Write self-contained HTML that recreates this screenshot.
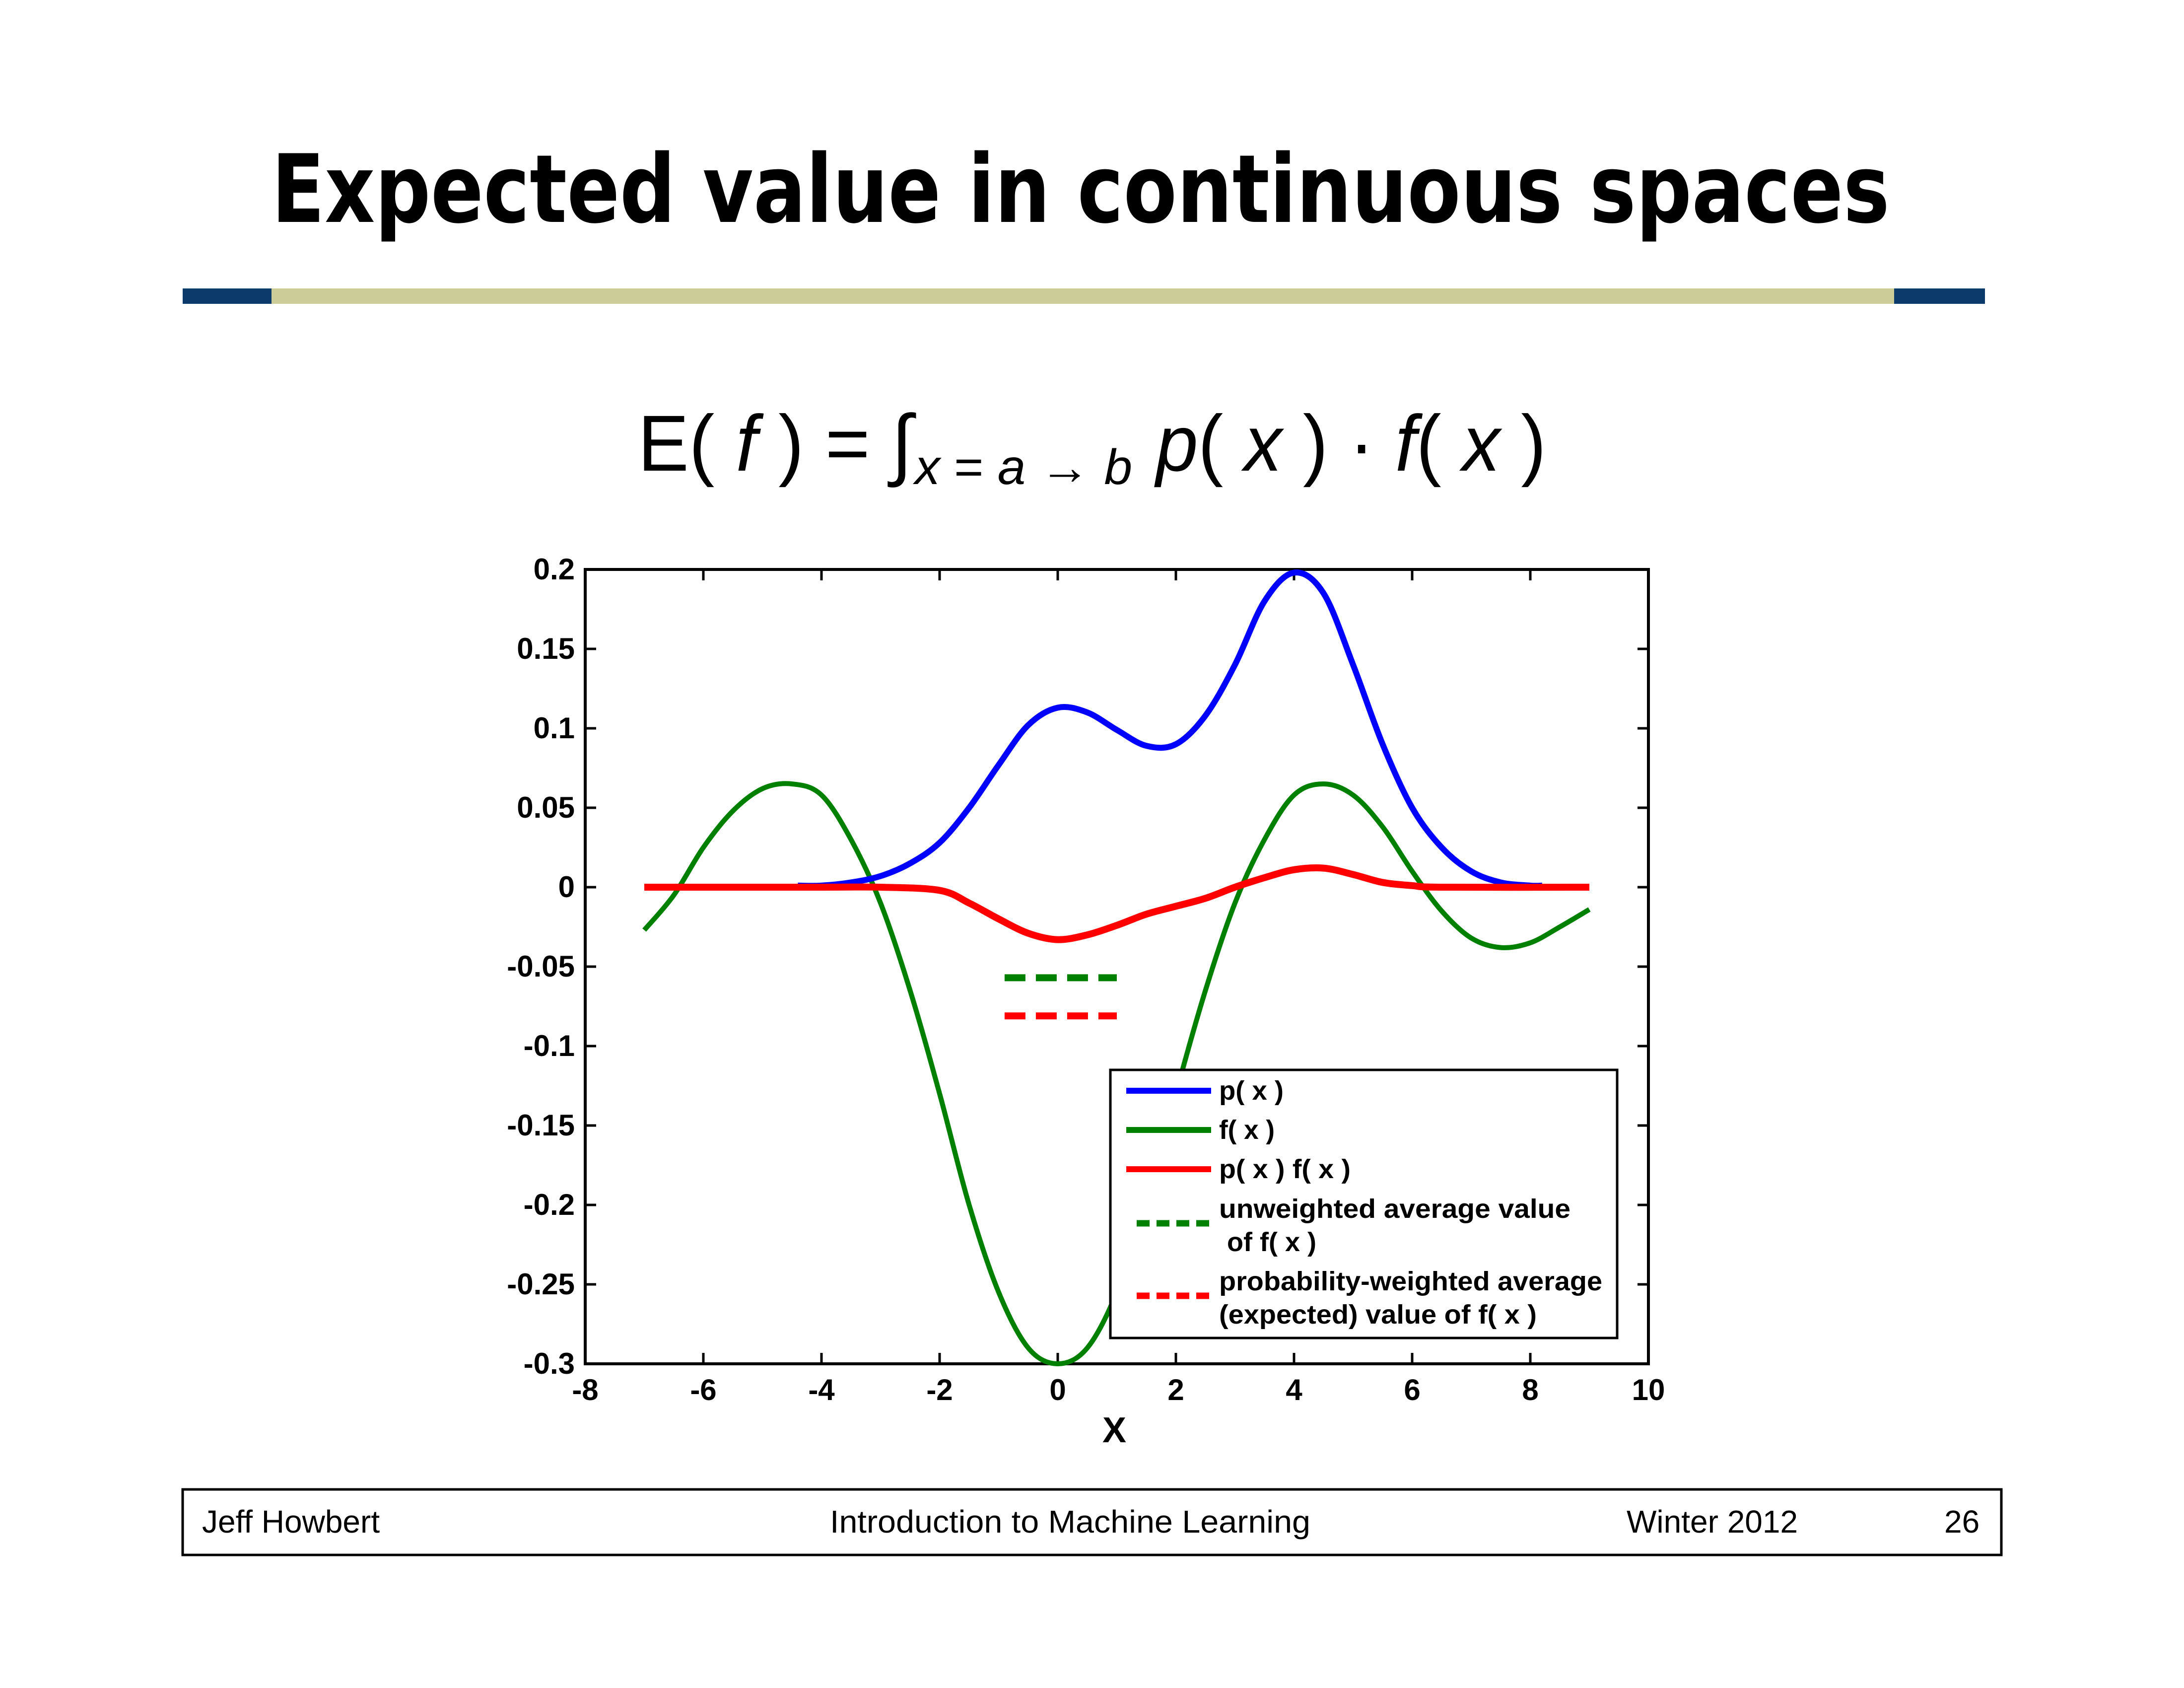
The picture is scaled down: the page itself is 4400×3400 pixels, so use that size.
<!DOCTYPE html>
<html><head><meta charset="utf-8"><style>
html,body{margin:0;padding:0;background:#fff;}
svg{display:block;}
</style></head><body>
<svg width="4400" height="3400" viewBox="0 0 4400 3400" xmlns="http://www.w3.org/2000/svg">
<rect width="4400" height="3400" fill="#fff"/>
<text x="547" y="447" font-family="DejaVu Sans, Liberation Sans, sans-serif" font-weight="bold" font-size="190" textLength="3260" lengthAdjust="spacingAndGlyphs">Expected value in continuous spaces</text>
<g>
<rect x="368" y="581" width="179" height="31" fill="#0b3a6b"/>
<rect x="547" y="581" width="3269" height="31" fill="#cccc99"/>
<rect x="3816" y="581" width="183" height="31" fill="#0b3a6b"/>
</g>
<g font-family="Liberation Sans, sans-serif" fill="#000">
<text x="1285" y="948" font-size="160" textLength="553" lengthAdjust="spacingAndGlyphs">E( <tspan font-style="italic">f</tspan> ) = ∫</text>
<text x="1843" y="975" font-size="100" font-style="italic" textLength="438" lengthAdjust="spacingAndGlyphs">x<tspan font-style="normal"> = </tspan>a<tspan font-style="normal"> → </tspan>b</text>
<text x="2329" y="948" font-size="160" textLength="786" lengthAdjust="spacingAndGlyphs"><tspan font-style="italic">p</tspan>( <tspan font-style="italic">x</tspan> ) · <tspan font-style="italic">f</tspan>( <tspan font-style="italic">x</tspan> )</text>
</g>
<g id="chart"></g>
<g font-family="Liberation Sans, sans-serif" font-size="64">
<rect x="368" y="3000" width="3664" height="132" fill="none" stroke="#000" stroke-width="5"/>
<text x="407" y="3087">Jeff Howbert</text>
<text x="1672" y="3087" textLength="968" lengthAdjust="spacingAndGlyphs">Introduction to Machine Learning</text>
<text x="3277" y="3087">Winter 2012</text>
<text x="3917" y="3087">26</text>
</g>
</svg>
<script>
const xTicks=[-8,-6,-4,-2,0,2,4,6,8,10];
const yTicks=[0.2,0.15,0.1,0.05,0,-0.05,-0.1,-0.15,-0.2,-0.25,-0.3];
const yTickLabels=["0.2","0.15","0.1","0.05","0","-0.05","-0.1","-0.15","-0.2","-0.25","-0.3"];
const pX=[-4.4,-4,-3.5,-3,-2.5,-2,-1.5,-1,-0.5,0,0.5,1,1.5,2,2.5,3,3.5,4,4.5,5,5.5,6,6.5,7,7.5,8,8.2];
const pY=[0.001,0.001,0.003,0.007,0.015,0.028,0.05,0.077,0.102,0.113,0.11,0.099,0.089,0.09,0.108,0.14,0.18,0.198,0.185,0.14,0.09,0.05,0.025,0.01,0.003,0.001,0.001];
const fX=[-7,-6.5,-6,-5.5,-5,-4.5,-4,-3.5,-3,-2.5,-2,-1.5,-1,-0.5,0,0.5,1,1.5,2,2.5,3,3.5,4,4.5,5,5.5,6,6.5,7,7.5,8,8.5,9];
const fY=[-0.027,-0.005,0.025,0.048,0.062,0.065,0.058,0.03,-0.01,-0.065,-0.13,-0.2,-0.255,-0.29,-0.3,-0.29,-0.255,-0.2,-0.13,-0.065,-0.01,0.03,0.058,0.065,0.058,0.038,0.01,-0.015,-0.032,-0.038,-0.035,-0.025,-0.014];
const pfX=[-7,-4,-3,-2,-1.5,-1,-0.5,0,0.5,1,1.5,2,2.5,3,3.5,4,4.5,5,5.5,6,6.5,9];
const pfY=[0,0,0,-0.002,-0.01,-0.02,-0.029,-0.033,-0.03,-0.024,-0.017,-0.012,-0.007,0,0.006,0.011,0.012,0.008,0.003,0.001,0,0];
const unweightedAvg=-0.057;
const weightedAvg=-0.081;
const avgRange=[-0.9,1];

const L=1179,R=3321,T=1147,B=2747;
const sx=v=>L+(v+8)/18*(R-L);
const sy=v=>T+(0.2-v)/0.5*(B-T);
const NS="http://www.w3.org/2000/svg";
const chart=document.getElementById('chart');
function mk(tag,attrs,parent){const e=document.createElementNS(NS,tag);for(const k in attrs)e.setAttribute(k,attrs[k]);(parent||chart).appendChild(e);return e;}
function smooth(xs,ys){
  const P=xs.map((x,i)=>[sx(x),sy(ys[i])]);
  let d='M'+P[0][0]+','+P[0][1];
  for(let i=0;i<P.length-1;i++){
    const p0=P[i-1]||P[i],p1=P[i],p2=P[i+1],p3=P[i+2]||P[i+1];
    const c1=[p1[0]+(p2[0]-p0[0])/6,p1[1]+(p2[1]-p0[1])/6];
    const c2=[p2[0]-(p3[0]-p1[0])/6,p2[1]-(p3[1]-p1[1])/6];
    d+=' C'+c1[0]+','+c1[1]+' '+c2[0]+','+c2[1]+' '+p2[0]+','+p2[1];
  }
  return d;
}
const frame=mk('rect',{x:L,y:T,width:R-L,height:B-T,fill:'#fff',stroke:'#000','stroke-width':6});


xTicks.forEach(v=>{
  const x=sx(v);
  mk('line',{x1:x,y1:B,x2:x,y2:B-22,stroke:'#000','stroke-width':5});
  mk('line',{x1:x,y1:T,x2:x,y2:T+22,stroke:'#000','stroke-width':5});
  const t=mk('text',{x:x,y:2820,'text-anchor':'middle','font-family':'Liberation Sans, sans-serif','font-size':60,'font-weight':'bold'});
  t.textContent=String(v);
  
  
});
yTicks.forEach((v,i)=>{
  const y=sy(v);
  mk('line',{x1:L,y1:y,x2:L+22,y2:y,stroke:'#000','stroke-width':5});
  mk('line',{x1:R,y1:y,x2:R-22,y2:y,stroke:'#000','stroke-width':5});
  const t=mk('text',{x:1158,y:y+20,'text-anchor':'end','font-family':'Liberation Sans, sans-serif','font-size':60,'font-weight':'bold'});
  t.textContent=yTickLabels[i];
  
  
});
const xl=mk('text',{x:2245,y:2905,'text-anchor':'middle','font-family':'Liberation Sans, sans-serif','font-size':72,'font-weight':'bold'});
xl.textContent='X';



const fl=mk('path',{d:smooth(fX,fY),fill:'none',stroke:'#008000','stroke-width':10});


const pl=mk('path',{d:smooth(pX,pY),fill:'none',stroke:'#0000ff','stroke-width':12});


const pfl=mk('path',{d:smooth(pfX,pfY),fill:'none',stroke:'#ff0000','stroke-width':14});


const ua=mk('line',{x1:sx(avgRange[0]),y1:sy(unweightedAvg),x2:sx(avgRange[1]),y2:sy(unweightedAvg),stroke:'#008000','stroke-width':14,'stroke-dasharray':'42 21'});


const wa=mk('line',{x1:sx(avgRange[0]),y1:sy(weightedAvg),x2:sx(avgRange[1]),y2:sy(weightedAvg),stroke:'#ff0000','stroke-width':14,'stroke-dasharray':'42 21'});



const leg=mk('g',{});


mk('rect',{x:2237,y:2155,width:1021,height:540,fill:'#fff',stroke:'#000','stroke-width':5},leg);
const entries=[
 {c:'#0000ff',dash:false,y:2197,lines:['p( x )']},
 {c:'#008000',dash:false,y:2276,lines:['f( x )']},
 {c:'#ff0000',dash:false,y:2355,lines:['p( x ) f( x )']},
 {c:'#008000',dash:true,y:2464,lines:['unweighted average value',' of f( x )']},
 {c:'#ff0000',dash:true,y:2610,lines:['probability-weighted average','(expected) value of f( x )']}
];
const widths={'p( x )':130,'f( x )':112,'p( x ) f( x )':265,'unweighted average value':708,' of f( x )':180,'probability-weighted average':772,'(expected) value of f( x )':640};
entries.forEach((e,i)=>{
  const g=mk('g',{},leg);
  
  
  mk('line',{x1:e.dash?2290:2269,y1:e.y,x2:2440,y2:e.y,stroke:e.c,'stroke-width':e.dash?13:12,'stroke-dasharray':e.dash?'26 14':'none'},g);
  const y0=e.lines.length>1?e.y-11:e.y+18;
  e.lines.forEach((s,j)=>{
    const t=mk('text',{x:s.startsWith(' ')?2472:2456,y:y0+j*67,'font-family':'Liberation Sans, sans-serif','font-weight':'bold','font-size':54,textLength:widths[s],lengthAdjust:'spacingAndGlyphs'},g);
    t.textContent=s.trim();
  });
});
</script>
</body></html>
